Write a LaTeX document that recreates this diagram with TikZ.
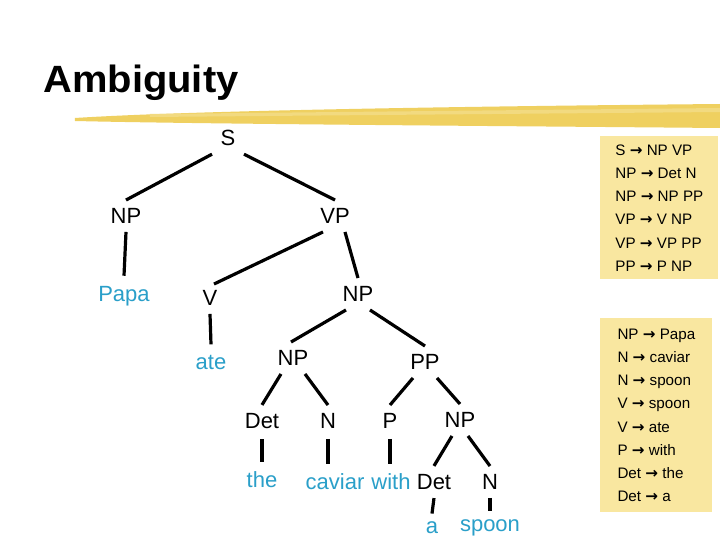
\documentclass[tikz,border=0pt]{standalone}
\usepackage{fontspec}
\setmainfont{Liberation Sans}
\newfontfamily\djv{DejaVu Sans}
\newcommand{\rarr}{~{\djv\bfseries→}~}
\definecolor{leaf}{HTML}{2A9FC9}
\definecolor{boxy}{HTML}{F9E7A0}
\definecolor{brush}{HTML}{EFD060}
\begin{document}
\begin{tikzpicture}[x=0.5pt,y=-0.5pt,
  cat/.style={font=\fontsize{11}{11}\selectfont,inner sep=1pt},
  lf/.style={cat,text=leaf},
  br/.style={line width=1.6pt,black},
  rules/.style={fill=boxy,align=left,font=\fontsize{7.6}{11.6}\selectfont,inner sep=4pt,anchor=north west}]
\useasboundingbox (0,0) rectangle (720,540);
\fill[white] (0,0) rectangle (720,540);
\node[anchor=west,font=\bfseries\fontsize{19}{19}\selectfont,xscale=1.05] (title) at (36,83) {Ambiguity};
\fill[brush] (75,118) .. controls (200,110) and (500,106) .. (720,104) -- (720,128) .. controls (500,126) and (200,124) .. (75,121) -- cycle;
\fill[brush!80!white] (150,114) -- (720,108) -- (720,112) -- (150,117) -- cycle;
% nodes
\node[cat] (s) at (228,138) {S};
\node[cat] (np1) at (126,216) {NP};
\node[cat] (vp) at (335,216) {VP};
\node[lf] (papa) at (124,296) {Papa};
\node[cat] (v) at (210,298) {V};
\node[cat] (np2) at (358,294) {NP};
\node[lf] (ate) at (211,362) {ate};
\node[cat] (np3) at (293,358) {NP};
\node[cat] (pp) at (425,362) {PP};
\node[cat] (det1) at (262,421) {Det};
\node[cat] (n1) at (328,421) {N};
\node[cat] (p) at (390,421) {P};
\node[cat] (np4) at (460,420) {NP};
\node[lf] (the) at (262,480) {the};
\node[lf] (caviar) at (335,482) {caviar};
\node[lf] (with) at (391,482) {with};
\node[cat] (det2) at (434,482) {Det};
\node[cat] (n2) at (490,482) {N};
\node[lf] (a) at (432,528) {a};
\node[lf] (spoon) at (490,528) {spoon};
% edges
\draw[br] ([xshift=-8pt,yshift=-3pt]s.south) -- ([yshift=3pt]np1.north);
\draw[br] ([xshift=8pt,yshift=-3pt]s.south) -- ([yshift=3pt]vp.north);
\draw[br] ([yshift=-3pt]np1.south) -- ([yshift=4pt]papa.north);
\draw[br] ([xshift=-6pt,yshift=-3pt]vp.south) -- ([yshift=2pt,xshift=2pt]v.north);
\draw[br] ([xshift=5pt,yshift=-3pt]vp.south) -- ([yshift=3pt]np2.north);
\draw[br] ([yshift=-3pt]v.south) -- ([yshift=4pt]ate.north);
\draw[br] ([xshift=-6pt,yshift=-3pt]np2.south) -- ([yshift=3pt,xshift=-1pt]np3.north);
\draw[br] ([xshift=6pt,yshift=-3pt]np2.south) -- ([yshift=3pt]pp.north);
\draw[br] ([xshift=-6pt,yshift=-3pt]np3.south) -- ([yshift=3pt]det1.north);
\draw[br] ([xshift=6pt,yshift=-3pt]np3.south) -- ([yshift=3pt]n1.north);
\draw[br] ([xshift=-6pt,yshift=-3pt]pp.south) -- ([yshift=3pt]p.north);
\draw[br] ([xshift=6pt,yshift=-3pt]pp.south) -- ([yshift=3pt]np4.north);
\draw[br] ([yshift=-4pt]det1.south) -- ([yshift=4pt]the.north);
\draw[br] ([yshift=-4pt]n1.south) -- ([yshift=4pt]n1.south|-caviar.north);
\draw[br] ([yshift=-4pt]p.south) -- ([yshift=4pt]p.south|-with.north);
\draw[br] ([xshift=-4pt,yshift=-3pt]np4.south) -- ([yshift=3pt]det2.north);
\draw[br] ([xshift=4pt,yshift=-3pt]np4.south) -- ([yshift=3pt]n2.north);
\draw[br] ([yshift=-3pt]det2.south) -- ([yshift=3pt]a.north);
\draw[br] ([yshift=-3pt]n2.south) -- ([yshift=3pt]n2.south|-spoon.north);
% rule boxes
\node[rules,minimum width=59pt,minimum height=71.5pt] (r1) at (600,136) {S\rarr NP VP\\NP\rarr Det N\\NP\rarr NP PP\\VP\rarr V NP\\VP\rarr VP PP\\PP\rarr P NP};
\node[rules,minimum width=56pt,minimum height=97pt] (r2) at (600,318) {NP\rarr Papa\\N\rarr caviar\\N\rarr spoon\\V\rarr spoon\\V\rarr ate\\P\rarr with\\Det\rarr the\\Det\rarr a};
\end{tikzpicture}
\end{document}
